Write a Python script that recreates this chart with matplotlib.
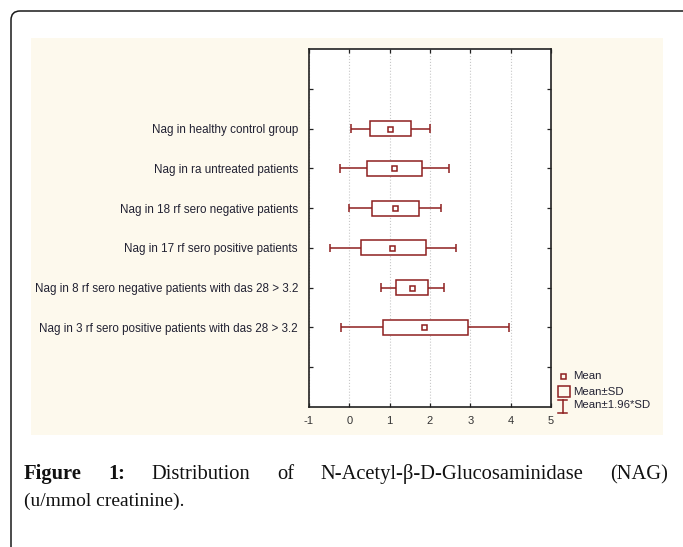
import matplotlib
matplotlib.use("Agg")
import matplotlib.pyplot as plt
from matplotlib.patches import FancyBboxPatch, Rectangle
from matplotlib.lines import Line2D

# ---- data ----
categories = [
    "Nag in healthy control group",
    "Nag in ra untreated patients",
    "Nag in 18 rf sero negative patients",
    "Nag in 17 rf sero positive patients",
    "Nag in 8 rf sero negative patients with das 28 > 3.2",
    "Nag in 3 rf sero positive patients with das 28 > 3.2",
]
mean_vals = [1.00, 1.10, 1.12, 1.07, 1.55, 1.85]
sd_low = [0.51, 0.43, 0.55, 0.30, 1.16, 0.83]
sd_high = [1.54, 1.80, 1.73, 1.89, 1.96, 2.94]
ci_low = [0.03, -0.22, -0.01, -0.48, 0.78, -0.20]
ci_high = [2.01, 2.46, 2.28, 2.65, 2.35, 3.97]
x_ticks = [-1, 0, 1, 2, 3, 4, 5]
legend_labels = ["Mean", "Mean\u00b1SD", "Mean\u00b11.96*SD"]
caption_bold = ["Figure", "1:"]
caption_words = ["Distribution", "of", "N-Acetyl-\u03b2-D-Glucosaminidase", "(NAG)"]
caption_line2 = "(u/mmol creatinine)."

W, H, DPI = 683, 547, 100
RED = "#8e1f1f"
CREAM = "#fdf9ed"
SANS = "Liberation Sans"
SERIF = "Liberation Serif"
YFS = 8.4
LFS = 8.2

fig = plt.figure(figsize=(W / DPI, H / DPI), dpi=DPI, facecolor="white")
inch = fig.dpi_scale_trans


def px(x, y):
    """pixel (from top-left) -> inches for dpi_scale_trans"""
    return x / DPI, (H - y) / DPI


# outer rounded frame (extends beyond the image at right and bottom)
x0, y0 = px(11, 11)
frame = FancyBboxPatch((x0, -0.6), 7.6, y0 + 0.6,
                       boxstyle="round,pad=0,rounding_size=0.09",
                       transform=inch, facecolor="none", edgecolor="#1a1a1a",
                       linewidth=1.1, zorder=-2, clip_on=False)
fig.patches.append(frame)

# cream panel
cx0, cy1 = px(30.5, 38)
cx1, cy0 = px(663, 435)
fig.patches.append(Rectangle((cx0, cy0), cx1 - cx0, cy1 - cy0, transform=inch,
                             facecolor=CREAM, edgecolor="none", zorder=-1))

# axes
ax = fig.add_axes([309 / W, 1 - 407 / H, 242 / W, 358 / H])
ax.set_facecolor("white")
ax.set_xlim(-1, 5)
ax.set_ylim(9, 0)

ypos = list(range(2, 2 + len(categories)))
ax.set_yticks([1] + ypos + [8])
ax.set_yticklabels([""] + categories + [""])
ax.set_xticks(x_ticks)
ax.set_xticklabels([str(v) for v in x_ticks])

ax.grid(axis="x", color="#c8c8c8", linestyle=":", linewidth=0.8, zorder=0)
ax.set_axisbelow(True)
for s in ax.spines.values():
    s.set_color("#222222")
    s.set_linewidth(1.2)
ax.tick_params(axis="both", direction="in", length=3, width=0.9, color="#222222",
               top=True, right=True)
ax.tick_params(axis="x", labelsize=8, labelcolor="#333333", pad=6.5)
ax.tick_params(axis="y", labelsize=YFS, labelcolor="#222233", pad=8)
for lab in ax.get_xticklabels() + ax.get_yticklabels():
    lab.set_family(SANS)

# whiskers
ax.hlines(ypos, ci_low, ci_high, color=RED, linewidth=1.1, zorder=2)
ax.vlines(ci_low, [y - 0.11 for y in ypos], [y + 0.11 for y in ypos],
          color=RED, linewidth=1.1, zorder=2)
ax.vlines(ci_high, [y - 0.11 for y in ypos], [y + 0.11 for y in ypos],
          color=RED, linewidth=1.1, zorder=2)
# boxes
ax.barh(ypos, [h - l for h, l in zip(sd_high, sd_low)], left=sd_low, height=0.375,
        facecolor="white", edgecolor=RED, linewidth=1.1, zorder=3)
# means
ax.plot(mean_vals, ypos, linestyle="none", marker="s", markersize=3.6,
        markerfacecolor="white", markeredgecolor=RED, markeredgewidth=1.1, zorder=4)

# legend (drawn by hand, in pixel positions)
lx, ly = px(562.7, 375.5)
fig.add_artist(Line2D([lx], [ly], transform=inch, linestyle="none", marker="s",
                      markersize=3.6, markerfacecolor="none", markeredgecolor=RED,
                      markeredgewidth=1.1))
bx0, by1 = px(557.5, 386)
bx1, by0 = px(569.5, 397)
fig.add_artist(Rectangle((bx0, by0), bx1 - bx0, by1 - by0, transform=inch,
                         facecolor="none", edgecolor=RED, linewidth=1.1))
ix, iy_top = px(562.5, 400)
_, iy_bot = px(562.5, 412.5)
cl, _ = px(558, 0)
cr, _ = px(567, 0)
fig.add_artist(Line2D([ix, ix], [iy_bot, iy_top], transform=inch, color=RED, linewidth=1.1))
fig.add_artist(Line2D([cl, cr], [iy_top, iy_top], transform=inch, color=RED, linewidth=1.1))
fig.add_artist(Line2D([cl, cr], [iy_bot, iy_bot], transform=inch, color=RED, linewidth=1.1))
for lab, yy in zip(legend_labels, [376, 392, 405.5]):
    tx, ty = px(573, yy)
    fig.text(tx, ty, lab, transform=inch, fontsize=LFS, family=SANS,
             color="#222233", va="center", ha="left")

# caption (justified first line)
fs = 14.8
line1_y = px(0, 479)[1]
texts = []
for w in caption_bold:
    texts.append(fig.text(0, line1_y, w, transform=inch, fontsize=fs, family=SERIF,
                          fontweight="bold", color="#111111", va="baseline"))
for w in caption_words:
    texts.append(fig.text(0, line1_y, w, transform=inch, fontsize=fs, family=SERIF,
                          color="#111111", va="baseline"))
fig.canvas.draw()
renderer = fig.canvas.get_renderer()
widths = [t.get_window_extent(renderer).width for t in texts]
left_px, right_px = 24, 668
gap = (right_px - left_px - sum(widths)) / (len(texts) - 1)
xcur = left_px
for t, wdt in zip(texts, widths):
    t.set_position((xcur / DPI, line1_y))
    xcur += wdt + gap

fig.text(24 / DPI, px(0, 506)[1], caption_line2, transform=inch, fontsize=14,
         family=SERIF, color="#111111", va="baseline")

fig.savefig("out.png", dpi=DPI, facecolor="white")
